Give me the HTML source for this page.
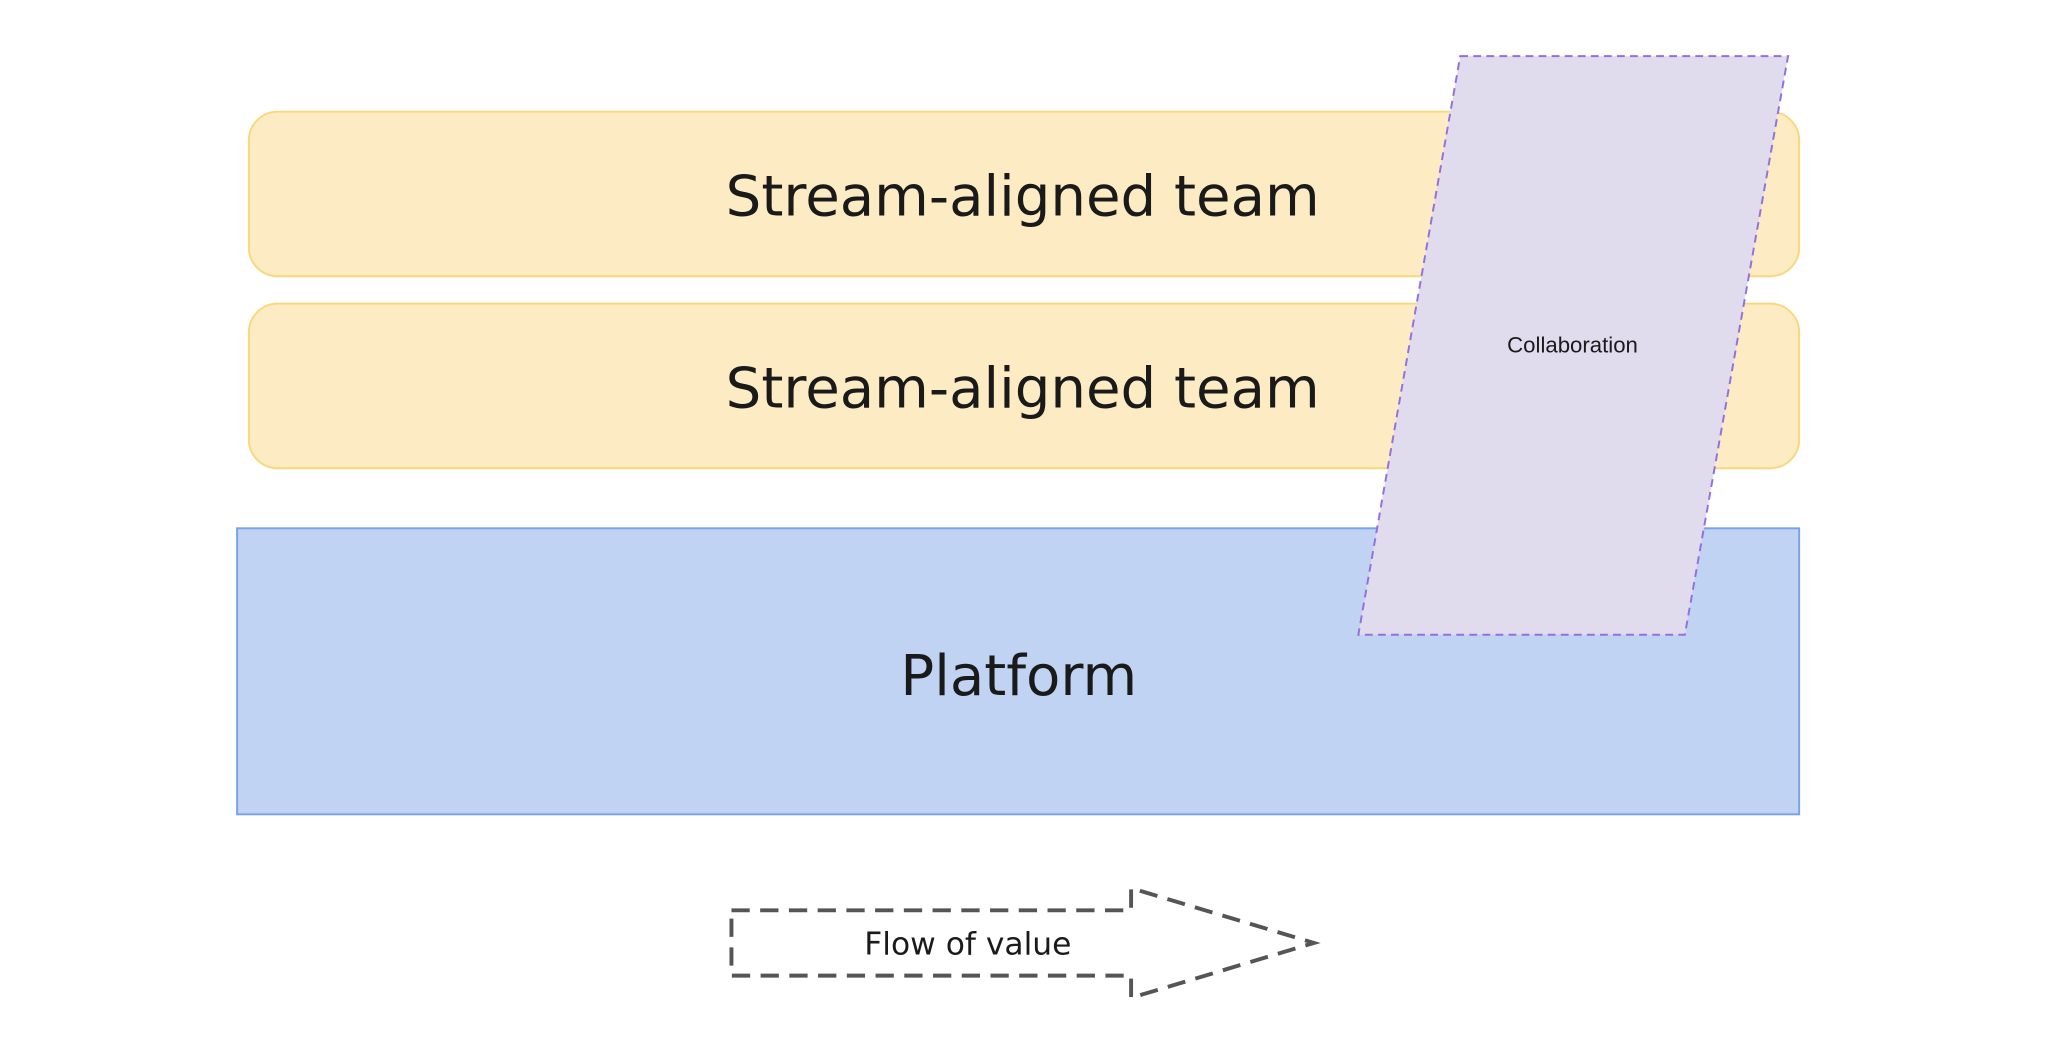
<!DOCTYPE html>
<html><head><meta charset="utf-8"><style>
html,body{margin:0;padding:0;background:#fff;}
svg{display:block;}
</style></head><body>
<svg width="2048" height="1060" viewBox="0 0 1568 811.6" xmlns="http://www.w3.org/2000/svg">
<rect x="0" y="0" width="1568" height="811.6" fill="#fff"/>
<rect x="190.5" y="85.5" width="1187" height="126" rx="22" fill="#fdecc3" stroke="#f9d77e" stroke-width="1.5"/>
<rect x="190.5" y="232.5" width="1187" height="126" rx="22" fill="#fdecc3" stroke="#f9d77e" stroke-width="1.5"/>
<text x="783" y="165" text-anchor="middle" font-family="'DejaVu Sans','Liberation Sans',sans-serif" font-size="43" fill="#1a1a1a">Stream-aligned team</text>
<text x="783" y="312" text-anchor="middle" font-family="'DejaVu Sans','Liberation Sans',sans-serif" font-size="43" fill="#1a1a1a">Stream-aligned team</text>
<rect x="181.5" y="404.5" width="1196" height="219" fill="#c0d3f3" stroke="#7ba1e6" stroke-width="1.5"/>
<text x="780" y="532" text-anchor="middle" font-family="'DejaVu Sans','Liberation Sans',sans-serif" font-size="43" fill="#1a1a1a">Platform</text>
<polygon points="1118,43 1369,43 1290,486 1040,486" fill="#e0dcee" stroke="#9370db" stroke-width="1.5" stroke-dasharray="6,4"/>
<text x="1204" y="270" text-anchor="middle" font-family="'Liberation Sans',sans-serif" font-size="17" fill="#1a1a1a">Collaboration</text>
<polygon points="560,697 866,697 866,680 1006,722 866,764 866,747 560,747" fill="none" stroke="#555" stroke-width="3" stroke-dasharray="14,8"/>
<text x="741" y="731" text-anchor="middle" font-family="'DejaVu Sans','Liberation Sans',sans-serif" font-size="24" fill="#1a1a1a">Flow of value</text>
</svg>
</body></html>
